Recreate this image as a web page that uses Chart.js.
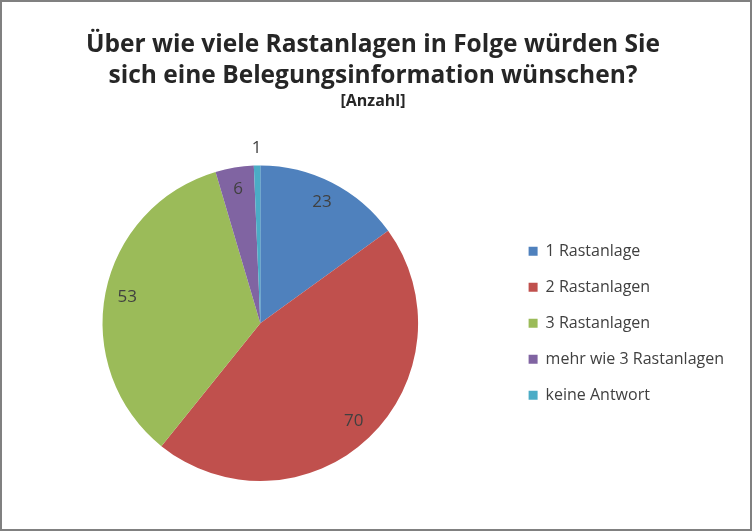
<!DOCTYPE html>
<html lang="de">
<head>
<meta charset="UTF-8">
<script src="https://cdn.jsdelivr.net/npm/chart.js@4/dist/chart.umd.min.js"></script>
<title>Rastanlagen</title>
<style>
  body { margin: 0; background: #fff; }
  .rahmen { width: 752px; height: 531px; box-sizing: border-box; border: 2px solid #808080; }
  canvas { display: block; }
</style>
</head>
<body>
<div class="rahmen">
  <canvas id="myChart" width="748" height="527"></canvas>
</div>
<script>
  // Werte aus der Umfrage
  const kategorien = ['1 Rastanlage', '2 Rastanlagen', '3 Rastanlagen', 'mehr wie 3 Rastanlagen', 'keine Antwort'];
  const anzahl = [23, 70, 53, 6, 1];
  const farben = ['#4F81BD', '#C0504D', '#9BBB59', '#8064A2', '#4BACC6'];

  const schrift = '"Open Sans", sans-serif';

  // Zahlen in die Tortenstuecke schreiben (kleine Stuecke aussen)
  const wertBeschriftung = {
    id: 'wertBeschriftung',
    afterDatasetsDraw(chart) {
      const ctx = chart.ctx;
      const meta = chart.getDatasetMeta(0);
      const summe = anzahl.reduce((a, b) => a + b, 0);
      ctx.save();
      ctx.font = '17px ' + schrift;
      ctx.fillStyle = '#404040';
      ctx.textAlign = 'center';
      ctx.textBaseline = 'middle';
      meta.data.forEach((arc, i) => {
        const p = arc.getProps(['x', 'y', 'startAngle', 'endAngle', 'outerRadius'], true);
        const mitte = (p.startAngle + p.endAngle) / 2;
        const d = anzahl[i] / summe < 0.02 ? p.outerRadius + 17 : p.outerRadius * 0.86;
        ctx.fillText(String(anzahl[i]), p.x + Math.cos(mitte) * d, p.y + Math.sin(mitte) * d);
      });
      ctx.restore();
    }
  };

  const myChart = new Chart(document.getElementById('myChart'), {
    type: 'pie',
    data: {
      labels: kategorien,
      datasets: [{
        data: anzahl,
        backgroundColor: farben,
        borderWidth: 0,
        hoverOffset: 0
      }]
    },
    options: {
      responsive: false,
      animation: false,
      events: [],
      layout: { padding: { left: 10, right: 16, top: 0, bottom: 48 } },
      plugins: {
        title: {
          display: true,
          text: ['Über wie viele Rastanlagen in Folge würden Sie', 'sich eine Belegungsinformation wünschen?'],
          color: '#262626',
          font: { family: schrift, size: 24.5, weight: 'bold', lineHeight: 1.27 },
          padding: { top: 27, bottom: 0 }
        },
        subtitle: {
          display: true,
          text: '[Anzahl]',
          color: '#262626',
          font: { family: schrift, size: 16, weight: 'bold' },
          padding: { top: 1, bottom: 54 }
        },
        legend: {
          position: 'right',
          fullSize: false,
          labels: {
            boxWidth: 9,
            boxHeight: 9,
            padding: 20,
            color: '#404040',
            font: { family: schrift, size: 16 }
          }
        },
        tooltip: { enabled: false }
      }
    },
    plugins: [wertBeschriftung]
  });
</script>
</body>
</html>
